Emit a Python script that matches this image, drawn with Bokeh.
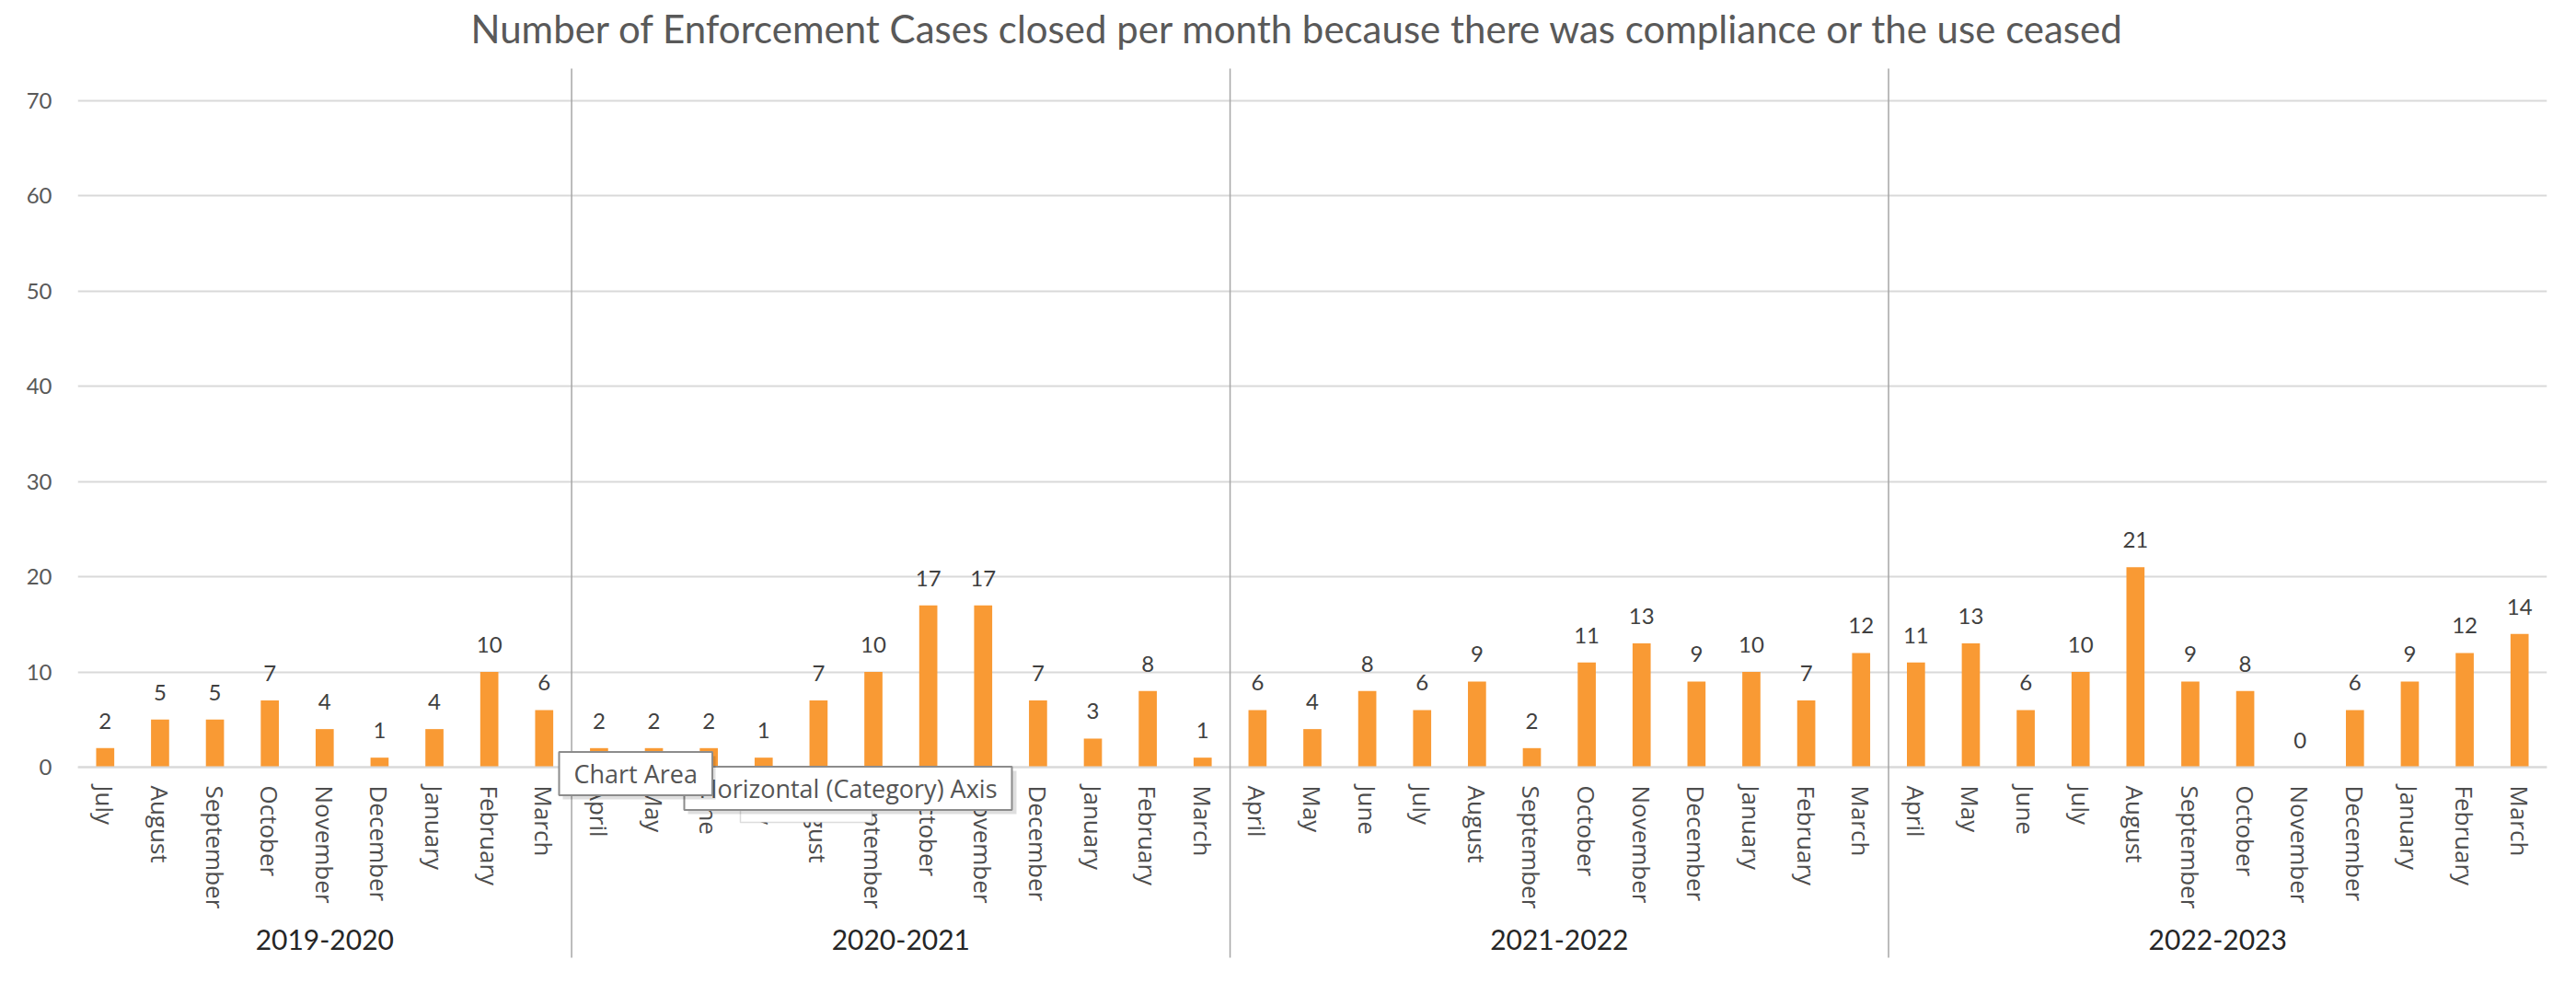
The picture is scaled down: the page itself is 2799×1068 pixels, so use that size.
from bokeh.plotting import figure
from bokeh.models import (ColumnDataSource, FactorRange, LabelSet, Label, Arrow,
                          FixedTicker, BoxAnnotation, Range1d)
from bokeh.core.properties import value
from bokeh.embed import file_html
from bokeh.resources import INLINE

title_text = "Number of Enforcement Cases closed per month because there was compliance or the use ceased"

years = ["2019-2020", "2020-2021", "2021-2022", "2022-2023"]
months_2019_2020 = ["July", "August", "September", "October", "November", "December",
                    "January", "February", "March"]
months_full = ["April", "May", "June", "July", "August", "September", "October",
               "November", "December", "January", "February", "March"]
values_2019_2020 = [2, 5, 5, 7, 4, 1, 4, 10, 6]
values_2020_2021 = [2, 2, 2, 1, 7, 10, 17, 17, 7, 3, 8, 1]
values_2021_2022 = [6, 4, 8, 6, 9, 2, 11, 13, 9, 10, 7, 12]
values_2022_2023 = [11, 13, 6, 10, 21, 9, 8, 0, 6, 9, 12, 14]
yticks = [0, 10, 20, 30, 40, 50, 60, 70]

groups = [
    (years[0], months_2019_2020, values_2019_2020),
    (years[1], months_full, values_2020_2021),
    (years[2], months_full, values_2021_2022),
    (years[3], months_full, values_2022_2023),
]

xs, vals = [], []
boundaries = []
count = 0
for yr, ms, vs in groups:
    for m, v in zip(ms, vs):
        xs.append((yr, m))
        vals.append(v)
    count += len(ms)
    boundaries.append(count)
boundaries = boundaries[:-1]

src = ColumnDataSource(data=dict(x=xs, v=vals, lbl=[str(v) for v in vals]))

x_range = FactorRange(factors=xs, factor_padding=0, group_padding=0,
                      subgroup_padding=0, range_padding=0)

# layout (pixels): frame spans the whole chart height incl. title and category axis
W, H = 2783, 1052
frame_left, frame_right, frame_top, frame_bottom = 84, 2767, 0, 1041
y0_px, y70_px = 833, 109
ppu = (y0_px - y70_px) / 70.0


def px_to_y(py):
    return (y0_px - py) / ppu


y_range = Range1d(start=px_to_y(frame_bottom), end=px_to_y(frame_top))

p = figure(width=W, height=H, x_range=x_range, y_range=y_range,
           output_backend="svg", toolbar_location=None,
           min_border_left=frame_left, min_border_right=W - frame_right,
           min_border_top=frame_top, min_border_bottom=H - frame_bottom,
           background_fill_color="white", border_fill_color="white",
           outline_line_color=None)

# chart title
p.add_layout(Label(x=511, y=30, x_units="canvas", y_units="canvas",
                   text=title_text, text_font="Lato", text_font_size="42px",
                   text_color="#595959", text_align="left",
                   text_baseline="middle"))

p.vbar(x="x", top="v", width=0.33, source=src, fill_color="#F99A34",
       line_color=None)

labels = LabelSet(x="x", y="v", text="lbl", source=src, y_offset=21,
                  text_align="center", text_baseline="alphabetic",
                  text_font=value("Lato"), text_font_size="24px",
                  text_color="#404040")
p.add_layout(labels)

# grid / axes
p.xgrid.grid_line_color = None
p.ygrid.grid_line_color = "#D9D9D9"
p.ygrid.grid_line_width = 2
p.yaxis.ticker = FixedTicker(ticks=yticks)
p.yaxis.axis_line_color = None
p.yaxis.major_tick_line_color = None
p.yaxis.minor_tick_line_color = None
p.yaxis.major_tick_out = 0
p.yaxis.major_label_standoff = 28
p.yaxis.major_label_text_font = "Lato"
p.yaxis.major_label_text_font_size = "24px"
p.yaxis.major_label_text_color = "#595959"

xa = p.xaxis[0]
xa.fixed_location = 0
xa.axis_line_color = "#D9D9D9"
xa.axis_line_width = 2
xa.major_tick_line_color = None
xa.major_tick_out = 0
xa.major_label_orientation = "vertical"
xa.major_label_standoff = 20
xa.major_label_text_font = "Open Sans"
xa.major_label_text_font_size = "26px"
xa.major_label_text_color = "#4D4D4D"
xa.group_text_font = "Lato"
xa.group_text_font_size = "30px"
xa.group_text_font_style = "normal"
xa.group_text_color = "#262626"
xa.separator_line_color = None

# vertical group separators (from below the year labels to above the top gridline)
for b in boundaries:
    p.add_layout(Arrow(end=None, x_start=b, x_end=b,
                       y_start=px_to_y(1040), y_end=px_to_y(74),
                       line_color="#A6A6A6", line_width=1.5))

# Excel hover tooltips captured in the screenshot
def tip_box(l, r, t, b, **kw):
    return BoxAnnotation(left=l, right=r, top=t, bottom=b,
                         left_units="canvas", right_units="canvas",
                         top_units="canvas", bottom_units="canvas", **kw)

p.add_layout(tip_box(804, 947, 850, 893, fill_color="white", fill_alpha=1,
                     line_color="#8C8C8C", line_width=1.5))
p.add_layout(tip_box(747, 1104, 837, 884, fill_color="#000000", fill_alpha=0.13,
                     line_color=None))
tip_axis = Label(x=743, y=856, x_units="canvas", y_units="canvas",
                 text="Horizontal (Category) Axis", text_font="Open Sans",
                 text_font_size="27px", text_color="#555555",
                 text_baseline="middle", text_align="left",
                 background_fill_color="white", border_line_color="#8C8C8C",
                 border_line_width=2, padding=(16, 5))
p.add_layout(tip_axis)
p.add_layout(tip_box(611, 777, 821, 868, fill_color="#000000", fill_alpha=0.13,
                     line_color=None))
tip_chart = Label(x=607, y=840, x_units="canvas", y_units="canvas",
                  text="Chart Area", text_font="Open Sans",
                  text_font_size="27px", text_color="#555555",
                  text_baseline="middle", text_align="left",
                  background_fill_color="white", border_line_color="#8C8C8C",
                  border_line_width=2, padding=(16, 5))
p.add_layout(tip_chart)

open("out.html", "w").write(file_html(p, INLINE))
